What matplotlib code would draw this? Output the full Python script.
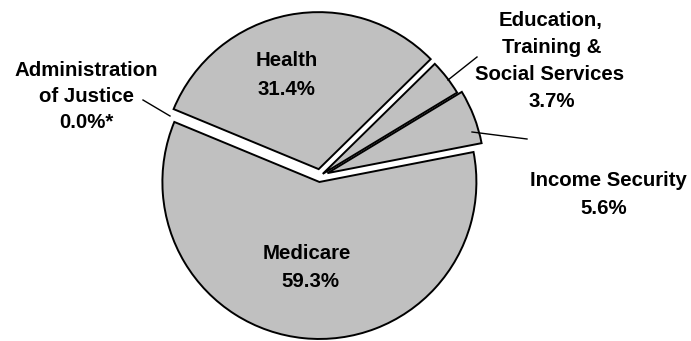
import matplotlib
matplotlib.use("Agg")
import matplotlib.pyplot as plt

# ---- data ----
categories = ["Income Security", "Education,\nTraining &\nSocial Services", "Health",
              "Administration\nof Justice", "Medicare"]
values = [5.6, 3.7, 31.4, 0.0, 59.3]
value_labels = ["5.6%", "3.7%", "31.4%", "0.0%*", "59.3%"]

# ---- layout ----
W, H = 691, 341
fig = plt.figure(figsize=(W / 100, H / 100), dpi=100)
ax = fig.add_axes([0, 0, 1, 1])

def sy(y):  # screen y (pixels from top) -> data y
    return H - y

center = (320, sy(176))
radius = 157
explode = [8, 3.5, 7, 0, 6]

wedges, _ = ax.pie(values, explode=explode, startangle=11, counterclock=True,
                   center=center, radius=radius,
                   colors=["#C0C0C0"] * len(values),
                   wedgeprops=dict(edgecolor="black", linewidth=1.4))
for w, v in zip(wedges, values):
    if v == 0:
        w.set_visible(False)

ax.set_xlim(0, W)
ax.set_ylim(0, H)
ax.set_aspect("auto")
ax.axis("off")

font = dict(family="Liberation Sans", fontweight="bold", fontsize=14.7,
            ha="center", va="baseline", color="black")

def label(lines, xs, baselines):
    for ln, x, b in zip(lines, xs, baselines):
        ax.text(x, sy(b), ln, **font)

# Health
label(["Health", value_labels[2]], [287, 286], [66, 95])
# Medicare
label(["Medicare", value_labels[4]], [307, 310], [259, 287])
# Administration of Justice
label(categories[3].split("\n") + [value_labels[3]], [86, 87, 86], [76, 102, 128])
# Education
label(categories[1].split("\n") + [value_labels[1]], [551, 552, 550, 552], [26, 53, 80, 107])
# Income Security
label([categories[0], value_labels[0]], [608, 604], [186, 214])

# leader lines
lw = 1.0
ax.plot([143, 170], [sy(100), sy(116)], color="black", lw=lw)
ax.plot([448, 477], [sy(80), sy(57)], color="black", lw=lw)
ax.plot([472, 527], [sy(132), sy(139)], color="black", lw=lw)

fig.savefig("out.png", dpi=100)
